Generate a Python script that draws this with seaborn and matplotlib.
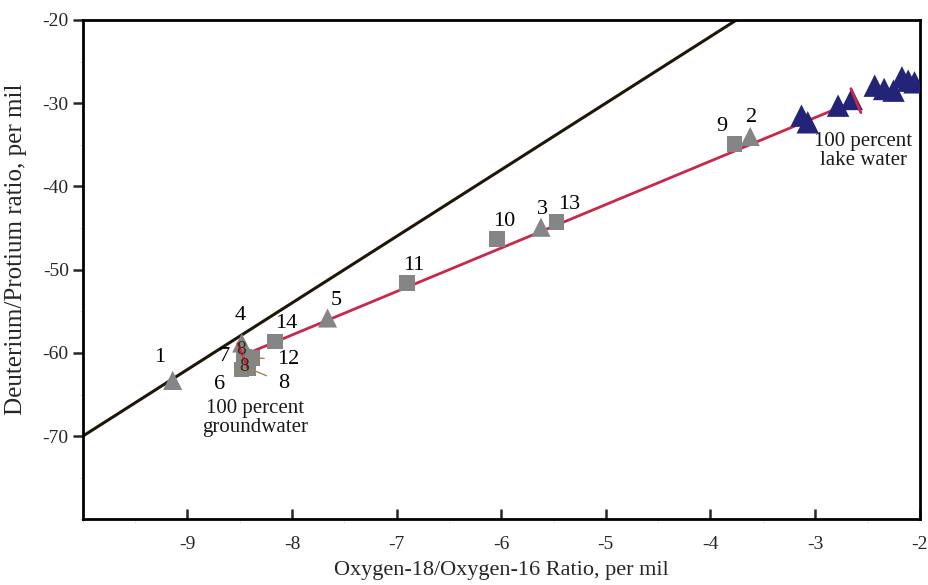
import numpy as np
import pandas as pd
import matplotlib.pyplot as plt
import seaborn as sns
from matplotlib.ticker import MultipleLocator

# sample points (gray = wells / springs, blue = lake water)
site_ids = ['1', '4', '7', '12', '6', '8', '14', '5', '11', '10', '3', '13', '9', '2']
site_o18 = [-9.14, -8.48, -8.46, -8.38, -8.48, -8.42, -8.16, -7.66, -6.90, -6.04, -5.62, -5.47, -3.77, -3.62]
site_dd = [-63.3, -58.8, -60.4, -60.6, -62.0, -61.8, -58.6, -55.8, -51.6, -46.3, -44.9, -44.3, -34.9, -34.0]
site_kind = ['tri', 'tri', 'sq', 'sq', 'sq', 'sq', 'sq', 'tri', 'sq', 'sq', 'tri', 'sq', 'sq', 'tri']

lake_o18 = [-3.13, -3.07, -2.78, -2.65, -2.43, -2.34, -2.25, -2.17, -2.11, -2.05]
lake_dd = [-31.5, -32.3, -30.3, -29.5, -27.9, -28.3, -28.5, -26.9, -27.3, -27.5]

# global meteoric water line and mixing line end members
gmwl_x = [-10.0, -3.75]
mix_x = [-8.47, -2.61]
mix_y = [-60.3, -29.7]

sns.set_theme(style='white')
plt.rcParams['font.family'] = ['Liberation Serif', 'DejaVu Serif']

fig = plt.figure(figsize=(9.29, 5.85), dpi=100)
ax = fig.add_axes([0.089, 0.112, 0.901, 0.854])
ax.set_xlim(-10, -2)
ax.set_ylim(-80, -20)

gx = np.array(gmwl_x)
ax.plot(gx, 8 * gx + 10, color='#1e1608', lw=2.2, zorder=2)

# mixing line with short cross ticks at both end members
red = '#c8284a'
ax.plot(mix_x, mix_y, color=red, lw=2.0, zorder=3)
p0 = ax.transData.transform((mix_x[0], mix_y[0]))
p1 = ax.transData.transform((mix_x[1], mix_y[1]))
d = (p1 - p0) / np.hypot(*(p1 - p0))
n = np.array([-d[1], d[0]])
inv = ax.transData.inverted()
for p in (p0, p1):
    a = inv.transform(p + 13 * n)
    b = inv.transform(p - 13 * n)
    ax.plot([a[0], b[0]], [a[1], b[1]], color=red, lw=2.0, zorder=5)

df = pd.DataFrame({'o18': site_o18, 'dd': site_dd, 'kind': site_kind, 'id': site_ids})
sns.scatterplot(data=df, x='o18', y='dd', style='kind', markers={'tri': '^', 'sq': 's'},
                size='kind', sizes={'tri': 190, 'sq': 125},
                color='#858585', edgecolor='none', legend=False, ax=ax, zorder=4)
sns.scatterplot(x=lake_o18, y=lake_dd, marker='^', color='#232378', s=260,
                edgecolor='none', legend=False, ax=ax, zorder=4)

label_off = {'1': (-9, 10), '4': (-1, 13), '14': (8, 6), '5': (6, 6), '11': (5, 6),
             '10': (5, 6), '3': (1, 6), '13': (9, 6), '9': (-9, 6), '2': (1, 7)}
for sid, x, y in zip(site_ids, site_o18, site_dd):
    if sid in label_off:
        ax.annotate(sid, (x, y), xytext=label_off[sid], textcoords='offset points',
                    ha='center', va='bottom', fontsize=16, color='black', zorder=6)

# crowded groundwater cluster with leader lines
lead = {'7': (-14, 0), '12': (26, -1), '6': (-16, -11), '8': (26, -11)}
for sid, x, y in zip(site_ids, site_o18, site_dd):
    if sid in lead:
        ax.annotate(sid, (x, y), xytext=lead[sid], textcoords='offset points',
                    ha='center', va='center', fontsize=16, color='black', zorder=6,
                    arrowprops=dict(arrowstyle='-', color='#a08455', lw=1.0,
                                    shrinkA=7, shrinkB=0))
ax.annotate('8', (-8.49, -59.6), ha='center', va='center', fontsize=14, color='#3a2a10', zorder=6)
ax.annotate('8', (-8.46, -61.6), ha='center', va='center', fontsize=14, color='#3a2a10', zorder=6)

ax.text(-8.35, -67.8, '100 percent\ngroundwater', ha='center', va='center', fontsize=15,
        linespacing=1.0, color='#1a1a1a')
ax.text(-2.54, -35.7, '100 percent\nlake water', ha='center', va='center', fontsize=15,
        linespacing=1.0, color='#1a1a1a')

ax.set_xticks([-9, -8, -7, -6, -5, -4, -3, -2])
ax.set_xticklabels(['-9', '-8', '-7', '-6', '-5', '-4', '-3', '-2'])
ax.set_yticks([-70, -60, -50, -40, -30, -20])
ax.set_yticklabels(['-70', '-60', '-50', '-40', '-30', '-20'])
ax.xaxis.set_minor_locator(MultipleLocator(0.5))
ax.yaxis.set_minor_locator(MultipleLocator(5))
ax.tick_params(axis='x', which='major', direction='in', length=7, width=1.8,
               labelsize=14, pad=12, bottom=True)
ax.tick_params(axis='y', which='major', direction='out', length=7, width=1.8,
               labelsize=14, pad=3, left=True)
ax.tick_params(which='minor', length=3, width=0.5, color='#e0e0e0', bottom=True, left=True)
for sp in ax.spines.values():
    sp.set_linewidth(2.0)
    sp.set_color('black')

ax.set_xlabel('Oxygen-18/Oxygen-16 Ratio, per mil', fontsize=16, labelpad=6)
ax.set_ylabel('Deuterium/Protium ratio, per mil', fontsize=18, labelpad=4)
ax.yaxis.set_label_coords(-0.066, 0.54)

fig.savefig('out.png', dpi=100)
